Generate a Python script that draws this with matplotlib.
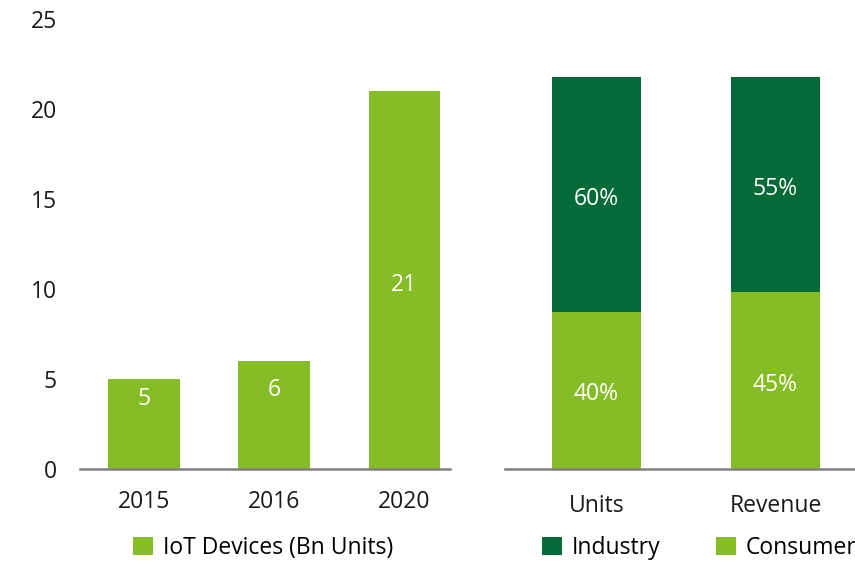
import matplotlib
matplotlib.use("Agg")
import matplotlib.pyplot as plt

years = ["2015", "2016", "2020"]
devices = [5, 6, 21]
segments = ["Units", "Revenue"]
industry_pct = [60, 55]
consumer_pct = [40, 45]

LIGHT = "#86BC25"
DARK = "#046A38"
AX = "#808080"
TXT = "#1a1a1a"
FS = 16.5

plt.rcParams['font.family'] = ['Open Sans', 'DejaVu Sans']

fig = plt.figure(figsize=(8.55, 5.61), dpi=100)

# Left panel
axl = fig.add_axes([80/855, 92/561, 370/855, 450/561])
xs = range(len(years))
bars = axl.bar(xs, devices, width=0.55, color=LIGHT, label="IoT Devices (Bn Units)")
for x, v in zip(xs, devices):
    yl = v/2 + 1.4 if v < 10 else v/2 - 0.3
    axl.text(x, yl, str(v), ha="center", va="center", color="white", fontsize=FS)
axl.set_xlim(-0.49, 2.35)
axl.set_ylim(0, 25)
axl.set_yticks([0, 5, 10, 15, 20, 25])
axl.set_xticks(list(xs))
axl.set_xticklabels(years)
axl.tick_params(axis="both", length=0, labelsize=FS, colors=TXT)
axl.tick_params(axis="y", pad=16.5)
axl.tick_params(axis="x", pad=15)
for s in ["top", "right", "left"]:
    axl.spines[s].set_visible(False)
axl.spines["bottom"].set_color(AX)
axl.spines["bottom"].set_linewidth(1.8)
axl.legend(handles=[bars], loc="center left", bbox_to_anchor=(133/855, 1 - 548/561),
           bbox_transform=fig.transFigure, frameon=False, fontsize=FS,
           handlelength=0.87, handleheight=0.87, handletextpad=0.44, borderpad=0, borderaxespad=0)

# Right panel
total = 21.8
top = 100 * 25 / total
axr = fig.add_axes([505/855, 92/561, 350/855, 450/561])
xr = range(len(segments))
bc = axr.bar(xr, consumer_pct, width=0.5, color=LIGHT, label="Consumer")
bi = axr.bar(xr, industry_pct, width=0.5, bottom=consumer_pct, color=DARK, label="Industry")
for x, c, i in zip(xr, consumer_pct, industry_pct):
    axr.text(x, c/2 - 1, f"{c}%", ha="center", va="center", color="white", fontsize=FS)
    axr.text(x, c + i/2 - 1.2, f"{i}%", ha="center", va="center", color="white", fontsize=FS)
axr.set_xlim(-0.51, 1.444)
axr.set_ylim(0, top)
axr.set_yticks([])
axr.set_xticks(list(xr))
axr.set_xticklabels(segments)
axr.tick_params(axis="x", length=0, labelsize=FS, colors=TXT, pad=18)
for s in ["top", "right", "left"]:
    axr.spines[s].set_visible(False)
axr.spines["bottom"].set_color(AX)
axr.spines["bottom"].set_linewidth(1.8)
axr.legend(handles=[bi, bc], loc="center left", bbox_to_anchor=(542/855, 1 - 548/561),
           bbox_transform=fig.transFigure, frameon=False, fontsize=FS, ncol=2,
           handlelength=0.87, handleheight=0.87, handletextpad=0.44, columnspacing=2.4,
           borderpad=0, borderaxespad=0)

fig.savefig("out.png", dpi=100)
